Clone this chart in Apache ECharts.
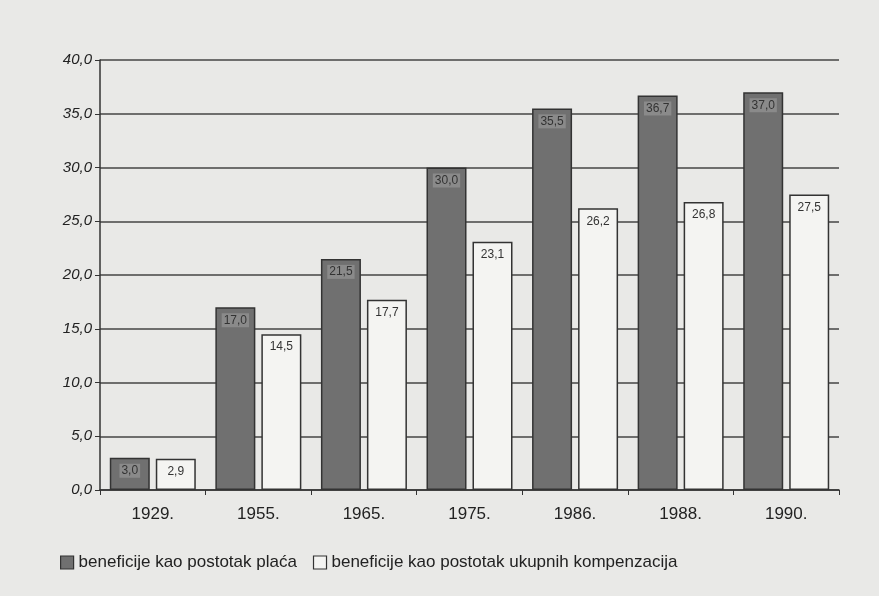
<!DOCTYPE html>
<html>
<head>
<meta charset="utf-8">
<script src="https://cdn.jsdelivr.net/npm/echarts@6/dist/echarts.min.js"></script>
<style>
  html, body { margin: 0; padding: 0; background: #ffffff; }
  #chart { width: 879px; height: 596px; }
</style>
</head>
<body>
<div id="chart"></div>
<script>
// podaci s grafikona
const years = ['1929.', '1955.', '1965.', '1975.', '1986.', '1988.', '1990.'];
const placa = [3.0, 17.0, 21.5, 30.0, 35.5, 36.7, 37.0];
const kompenzacije = [2.9, 14.5, 17.7, 23.1, 26.2, 26.8, 27.5];
const seriesNames = ['beneficije kao postotak plaća', 'beneficije kao postotak ukupnih kompenzacija'];

const fmt = v => v.toFixed(1).replace('.', ',');

const chart = echarts.init(document.getElementById('chart'));

const labelStyle = (bg) => ({
  show: true,
  position: 'insideTop',
  distance: 6,
  fontFamily: 'Liberation Sans',
  fontSize: 12,
  color: '#333',
  backgroundColor: bg,
  padding: [1, 2],
  formatter: p => fmt(p.value)
});

chart.setOption({
  backgroundColor: '#e9e9e7',
  animation: false,
  grid: { left: 100, right: 40, top: 60, bottom: 106 },
  legend: {
    bottom: 20,
    left: 55,
    icon: 'rect',
    itemWidth: 13,
    itemHeight: 13,
    itemGap: 16,
    itemStyle: { borderColor: '#333', borderWidth: 1.2 },
    textStyle: { fontFamily: 'Liberation Sans', fontSize: 17, color: '#222' },
    data: seriesNames
  },
  xAxis: {
    type: 'category',
    data: years,
    axisTick: { show: true, lineStyle: { color: '#333' } },
    axisLine: { lineStyle: { color: '#333', width: 1.5 } },
    axisLabel: { fontFamily: 'Liberation Sans', fontSize: 17, color: '#222', margin: 16 }
  },
  yAxis: {
    type: 'value',
    min: 0,
    max: 40,
    interval: 5,
    axisLine: { show: true, lineStyle: { color: '#333', width: 1.5 } },
    axisTick: { show: true, lineStyle: { color: '#333' } },
    axisLabel: {
      fontFamily: 'Liberation Sans', fontStyle: 'italic', fontSize: 15, color: '#222',
      formatter: v => fmt(v)
    },
    splitLine: { lineStyle: { color: '#444', width: 1.5 } }
  },
  series: [
    {
      name: seriesNames[0],
      type: 'bar',
      data: placa,
      barWidth: 40,
      barGap: '15%',
      itemStyle: { color: '#707070', borderColor: '#333', borderWidth: 1.5 },
      label: labelStyle('#8a8a8a')
    },
    {
      name: seriesNames[1],
      type: 'bar',
      data: kompenzacije,
      barWidth: 40,
      itemStyle: { color: '#f4f4f2', borderColor: '#333', borderWidth: 1.5 },
      label: labelStyle('#f4f4f2')
    }
  ]
});
</script>
</body>
</html>
